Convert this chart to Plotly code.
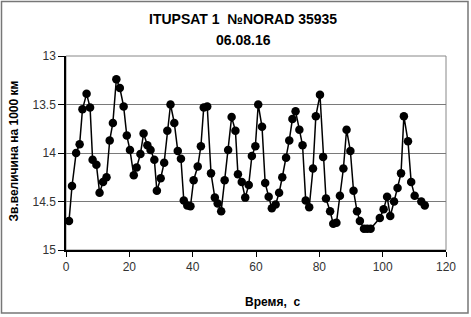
import plotly.graph_objects as go

time_s = [0.95, 1.9, 3.2, 4.3, 5.2, 6.5, 7.6, 8.4, 9.6, 10.6, 11.7, 12.8, 13.8, 14.8,
          15.9, 17.0, 18.2, 19.2, 20.2, 21.4, 22.3, 23.5, 24.5, 25.7, 26.7, 27.9, 28.7,
          29.9, 31.0, 32.0, 33.0, 34.2, 35.3, 36.3, 37.2, 38.3, 39.3, 40.3, 41.6, 42.6,
          43.5, 44.6, 45.8, 47.0, 47.9, 49.0, 50.1, 51.2, 52.3, 53.5, 54.3, 55.5, 56.6,
          57.7, 58.7, 59.8, 60.7, 61.9, 62.9, 64.0, 65.0, 66.2, 67.3, 68.3, 69.5, 70.5,
          71.5, 72.5, 73.7, 74.7, 75.7, 76.8, 78.0, 78.9, 80.2, 81.2, 82.1, 83.4, 84.4,
          85.4, 86.5, 87.6, 88.6, 89.8, 90.8, 91.9, 92.8, 94.1, 95.1, 96.2, 99.1, 100.3,
          101.4, 102.4, 103.6, 104.7, 105.8, 106.7, 108.0, 109.0, 110.1, 112.2, 113.3]
magnitude = [14.70, 14.34, 14.00, 13.91, 13.55, 13.39, 13.53, 14.07, 14.12, 14.41, 14.30,
             14.25, 13.87, 13.69, 13.24, 13.33, 13.52, 13.82, 13.97, 14.23, 14.15, 14.01,
             13.80, 13.92, 13.97, 14.07, 14.39, 14.26, 14.10, 13.77, 13.50, 13.69, 13.98,
             14.06, 14.49, 14.54, 14.55, 14.28, 14.14, 13.93, 13.53, 13.52, 14.21, 14.46,
             14.52, 14.60, 14.28, 13.97, 13.63, 13.77, 14.22, 14.30, 14.46, 14.33, 14.03,
             13.93, 13.50, 13.73, 14.31, 14.45, 14.57, 14.53, 14.41, 14.25, 14.05, 13.87,
             13.65, 13.57, 13.76, 13.92, 14.49, 14.56, 14.16, 13.62, 13.40, 14.04, 14.47,
             14.60, 14.73, 14.72, 14.44, 14.16, 13.76, 13.98, 14.39, 14.60, 14.70, 14.78,
             14.78, 14.78, 14.67, 14.58, 14.45, 14.65, 14.50, 14.36, 14.21, 13.62, 13.88,
             14.30, 14.44, 14.50, 14.54]

x_ticks = [0, 20, 40, 60, 80, 100, 120]
y_ticks = [13, 13.5, 14, 14.5, 15]
y_tick_text = ["13", "13.5", "14", "14.5", "15"]

title_line1 = "ITUPSAT 1  №NORAD 35935"
title_line2 = "06.08.16"
x_title = "Время,  с"
y_title = "Зв.величина на 1000 км"

W, H = 471, 317
L, R, T, B = 66, 25, 56, 67
pw, ph = W - L - R, H - T - B


def px(x):
    return (x - L) / pw


def py(y):
    return (H - B - y) / ph


font = "Liberation Sans, Arial, sans-serif"

fig = go.Figure()
fig.add_trace(go.Scatter(
    x=time_s, y=magnitude, mode="lines+markers",
    line=dict(color="black", width=1.5),
    marker=dict(color="black", size=8.5, symbol="circle"),
    showlegend=False,
))

fig.update_layout(
    width=W, height=H,
    margin=dict(l=L, r=R, t=T, b=B),
    paper_bgcolor="white", plot_bgcolor="white",
    font=dict(family=font, size=12, color="#222"),
    xaxis=dict(range=[0, 120], tickvals=x_ticks, showgrid=False, zeroline=False,
               showline=True, linecolor="black", linewidth=1.5,
               ticks="outside", ticklen=5, tickcolor="black",
               tickfont=dict(size=12, color="#333")),
    yaxis=dict(range=[15, 13], tickvals=y_ticks, ticktext=y_tick_text,
               showgrid=True, gridcolor="#7a7a7a", gridwidth=1, zeroline=False,
               showline=True, linecolor="black", linewidth=1.5,
               ticks="outside", ticklen=6, tickcolor="black",
               tickfont=dict(size=12, color="#333")),
    shapes=[
        dict(type="rect", xref="paper", yref="paper", x0=0, x1=1, y0=0, y1=1,
             line=dict(color="#888", width=1), layer="below"),
        dict(type="rect", xref="paper", yref="paper",
             x0=px(1.5), x1=px(468), y0=py(313), y1=py(1.5),
             line=dict(color="#777", width=1.5)),
    ],
    annotations=[
        dict(text="<b>" + title_line1 + "</b>", xref="paper", yref="paper",
             x=px(243), y=py(19), showarrow=False, xanchor="center", yanchor="middle",
             font=dict(family=font, size=14, color="black")),
        dict(text="<b>" + title_line2 + "</b>", xref="paper", yref="paper",
             x=px(243), y=py(40), showarrow=False, xanchor="center", yanchor="middle",
             font=dict(family=font, size=14, color="black")),
        dict(text="<b>" + x_title + "</b>", xref="paper", yref="paper",
             x=px(272), y=py(302), showarrow=False, xanchor="center", yanchor="middle",
             font=dict(family=font, size=12, color="black")),
        dict(text="<b>" + y_title + "</b>", xref="paper", yref="paper",
             x=px(13), y=py(151.5), showarrow=False, xanchor="center", yanchor="middle",
             textangle=-90, font=dict(family=font, size=12, color="black")),
    ],
)

fig.write_html("out.html", config={"displayModeBar": False},
               post_script="document.body.style.margin='0';document.body.style.padding='0';")
